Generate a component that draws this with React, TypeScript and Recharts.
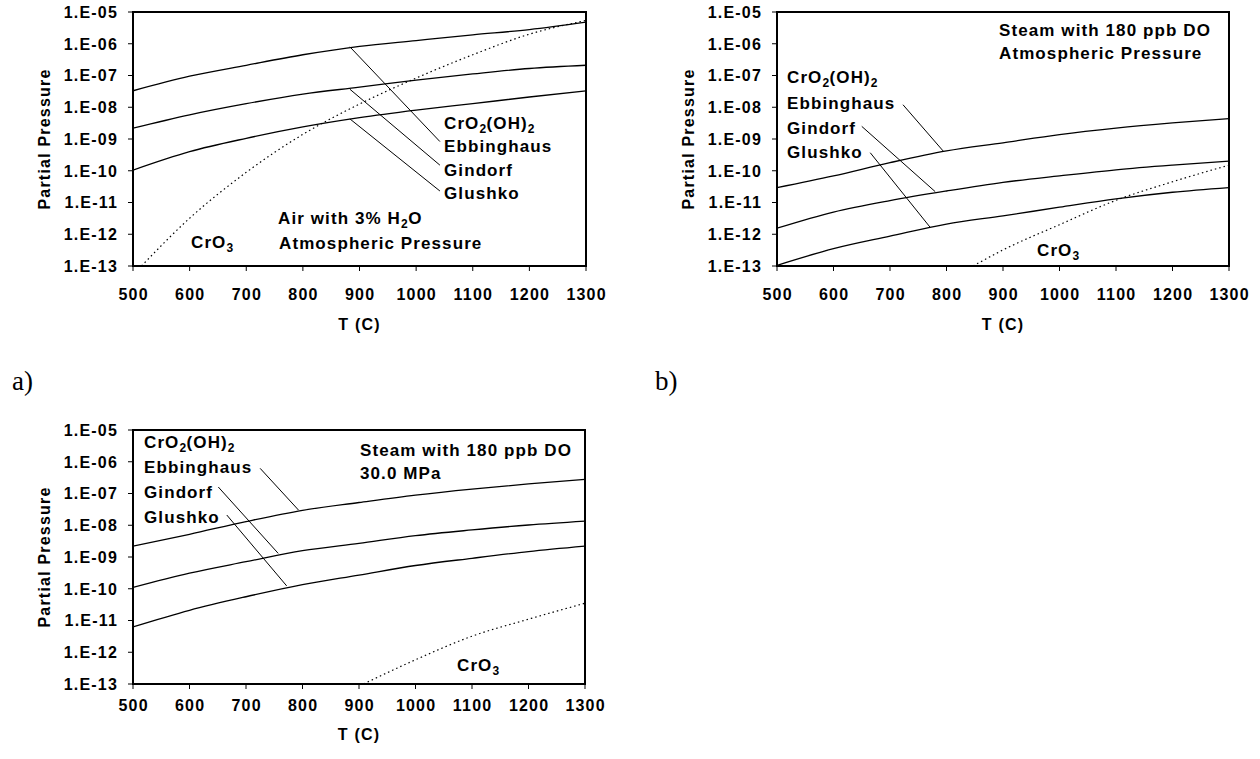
import React from 'react';
import { LineChart, Line, XAxis, YAxis, ReferenceLine, ReferenceArea } from 'recharts';

// ---------- shared axes ----------
const temps = [500, 600, 700, 800, 900, 1000, 1100, 1200, 1300];
const xTicks = [500, 600, 700, 800, 900, 1000, 1100, 1200, 1300];
const yTicks = [1e-13, 1e-12, 1e-11, 1e-10, 1e-9, 1e-8, 1e-7, 1e-6, 1e-5];

// ---------- panel a: Air with 3% H2O, atmospheric pressure ----------
const aEbbinghaus = [3.3e-8, 9.5e-8, 2.1e-7, 4.5e-7, 8.3e-7, 1.26e-6, 1.9e-6, 2.8e-6, 4.8e-6];
const aGindorf = [2.2e-9, 5.8e-9, 1.3e-8, 2.6e-8, 4.3e-8, 7.2e-8, 1.12e-7, 1.66e-7, 2.1e-7];
const aGlushko = [1.05e-10, 4.0e-10, 1.05e-9, 2.4e-9, 4.7e-9, 8.1e-9, 1.3e-8, 2.1e-8, 3.3e-8];
const aCrO3Temps = [515, 600, 700, 800, 900, 1000, 1100, 1200, 1300];
const aCrO3 = [1e-13, 3.2e-12, 8.9e-11, 1.4e-9, 1.26e-8, 8.3e-8, 4.5e-7, 2.0e-6, 5.4e-6];
const aLeaders = [
  [[883, 8.0e-7], [1042, 8.3e-10]],
  [[883, 3.7e-8], [1042, 1.5e-10]],
  [[883, 4.3e-9], [1042, 2.3e-11]],
];

// ---------- panel b: Steam with 180 ppb DO, atmospheric pressure ----------
const bEbbinghaus = [2.95e-11, 6.9e-11, 1.8e-10, 4.2e-10, 7.6e-10, 1.38e-9, 2.2e-9, 3.2e-9, 4.4e-9];
const bGindorf = [1.55e-12, 5.0e-12, 1.15e-11, 2.3e-11, 4.3e-11, 6.9e-11, 1.07e-10, 1.5e-10, 2.0e-10];
const bGlushko = [1.05e-13, 3.5e-13, 8.7e-13, 2.1e-12, 3.8e-12, 7.1e-12, 1.3e-11, 2.1e-11, 2.95e-11];
const bCrO3Temps = [847, 900, 1000, 1100, 1200, 1300];
const bCrO3 = [1e-13, 3.2e-13, 2.0e-12, 1.17e-11, 4.5e-11, 1.5e-10];
const bLeaders = [
  [[723, 1.2e-8], [794, 4.2e-10]],
  [[650, 2.5e-9], [780, 2.2e-11]],
  [[665, 3.7e-10], [771, 1.66e-12]],
];

// ---------- panel c: Steam with 180 ppb DO, 30.0 MPa ----------
const cEbbinghaus = [2.2e-9, 5.2e-9, 1.3e-8, 2.95e-8, 5.2e-8, 8.9e-8, 1.38e-7, 2.0e-7, 2.8e-7];
const cGindorf = [1.1e-10, 3.1e-10, 7.1e-10, 1.58e-9, 2.7e-9, 4.7e-9, 7.1e-9, 1.02e-8, 1.35e-8];
const cGlushko = [6.3e-12, 2.1e-11, 5.6e-11, 1.35e-10, 2.7e-10, 5.4e-10, 9.1e-10, 1.48e-9, 2.2e-9];
const cCrO3Temps = [908, 1000, 1100, 1200, 1300];
const cCrO3 = [1e-13, 5.8e-13, 3.2e-12, 1.1e-11, 3.5e-11];
const cLeaders = [
  [[725, 6.2e-7], [793, 3.0e-8]],
  [[651, 1.6e-7], [757, 1.3e-9]],
  [[666, 2.1e-8], [772, 1.23e-10]],
];

// ---------- helpers ----------
const rows = (ts: number[], vs: number[]) => ts.map((t, i) => ({ t, p: vs[i] }));
const fmt = (v: number) => '1.E-' + String(Math.round(-Math.log10(v))).padStart(2, '0');

const SANS = "'Liberation Sans', Arial, Helvetica, sans-serif";
const tickFont: React.CSSProperties = {
  fontFamily: SANS,
  fontWeight: 700,
  fontSize: 16,
  letterSpacing: 1.2,
};

const YTick = (props: any) => {
  const { x, y, payload } = props;
  return (
    <text x={x} y={y} dy="0.36em" textAnchor="end" fill="#000" style={tickFont}>
      {fmt(payload.value)}
    </text>
  );
};

const makeXTick = (dy: number) => (props: any) => {
  const { x, y, payload } = props;
  return (
    <text x={x + 0.6} y={y} dy={dy} textAnchor="middle" fill="#000" style={tickFont}>
      {payload.value}
    </text>
  );
};

const makeXLabel = (dy: number) => (props: any) => {
  const vb = props.viewBox;
  return (
    <text x={vb.x + vb.width / 2} y={vb.y + dy} textAnchor="middle" fill="#000" style={tickFont}>
      T (C)
    </text>
  );
};

const YLabel = (props: any) => {
  const vb = props.viewBox;
  const cx = vb.x + 44;
  const cy = vb.y + vb.height / 2;
  return (
    <text
      transform={`translate(${cx},${cy}) rotate(-90)`}
      dy="0.36em"
      textAnchor="middle"
      fill="#000"
      style={tickFont}
    >
      Partial Pressure
    </text>
  );
};

type PanelProps = {
  left: number;
  top: number;
  plotWidth: number;
  ebb: number[];
  gin: number[];
  glu: number[];
  cro3T: number[];
  cro3: number[];
  leaders: number[][][];
  tickDy: number;
  labelDy: number;
};

const CHART_W = 640;

const Panel = (p: PanelProps) => {
  const XTick = makeXTick(p.tickDy);
  const XLabel = makeXLabel(p.labelDy);
  const rightMargin = CHART_W - 133 - p.plotWidth;
  return (
    <div style={{ position: 'absolute', left: p.left, top: p.top }}>
      <LineChart width={CHART_W} height={340} margin={{ top: 12, right: rightMargin, left: 0, bottom: 0 }}>
        <XAxis
          dataKey="t"
          type="number"
          domain={[500, 1300]}
          ticks={xTicks}
          interval={0}
          height={74}
          tickSize={5}
          tickMargin={0}
          axisLine={{ stroke: '#000', strokeWidth: 2 }}
          tickLine={{ stroke: '#000', strokeWidth: 1 }}
          tick={<XTick />}
          label={<XLabel />}
          allowDataOverflow
        />
        <YAxis
          type="number"
          scale="log"
          domain={[1e-13, 1e-5]}
          ticks={yTicks}
          interval={0}
          width={133}
          tickSize={5}
          tickMargin={10}
          axisLine={{ stroke: '#000', strokeWidth: 2 }}
          tickLine={{ stroke: '#000', strokeWidth: 1 }}
          tick={<YTick />}
          label={<YLabel />}
          allowDataOverflow
        />
        <ReferenceArea
          x1={500}
          x2={1300}
          y1={1e-13}
          y2={1e-5}
          fill="none"
          fillOpacity={0}
          stroke="#000"
          strokeWidth={2}
          ifOverflow="visible"
        />
        {p.leaders.map((seg, i) => (
          <ReferenceLine
            key={'l' + i}
            segment={[{ x: seg[0][0], y: seg[0][1] }, { x: seg[1][0], y: seg[1][1] }]}
            stroke="#000"
            strokeWidth={1}
            ifOverflow="visible"
          />
        ))}
        <Line data={rows(temps, p.ebb)} dataKey="p" type="monotone" stroke="#000" strokeWidth={1.3} dot={false} isAnimationActive={false} />
        <Line data={rows(temps, p.gin)} dataKey="p" type="monotone" stroke="#000" strokeWidth={1.3} dot={false} isAnimationActive={false} />
        <Line data={rows(temps, p.glu)} dataKey="p" type="monotone" stroke="#000" strokeWidth={1.3} dot={false} isAnimationActive={false} />
        <Line
          data={rows(p.cro3T, p.cro3)}
          dataKey="p"
          type="monotone"
          stroke="#000"
          strokeWidth={1.2}
          strokeDasharray="1.5 3"
          dot={false}
          isAnimationActive={false}
        />
      </LineChart>
    </div>
  );
};

const noteFont: React.CSSProperties = {
  position: 'absolute',
  fontFamily: SANS,
  fontWeight: 700,
  fontSize: 17,
  letterSpacing: 1.1,
  lineHeight: '20px',
  whiteSpace: 'nowrap',
  color: '#000',
};

const Sub = ({ children }: { children: React.ReactNode }) => (
  <span style={{ fontSize: 12, position: 'relative', top: 4, letterSpacing: 0.5 }}>{children}</span>
);

const Note = ({ x, cy, children }: { x: number; cy: number; children: React.ReactNode }) => (
  <div style={{ ...noteFont, left: x, top: cy - 10 }}>{children}</div>
);

const serifLabel: React.CSSProperties = {
  position: 'absolute',
  fontFamily: "'Liberation Serif', 'Times New Roman', serif",
  fontSize: 27,
  lineHeight: '30px',
  color: '#000',
};

export default function App() {
  return (
    <div style={{ position: 'absolute', left: 0, top: 0, width: 1260, height: 759, background: '#fff', overflow: 'hidden' }}>
      <Panel left={0} top={0} plotWidth={453} ebb={aEbbinghaus} gin={aGindorf} glu={aGlushko} cro3T={aCrO3Temps} cro3={aCrO3} leaders={aLeaders} tickDy={28.7} labelDy={64} />
      <Panel left={644} top={0} plotWidth={452} ebb={bEbbinghaus} gin={bGindorf} glu={bGlushko} cro3T={bCrO3Temps} cro3={bCrO3} leaders={bLeaders} tickDy={28.7} labelDy={64} />
      <Panel left={0} top={418} plotWidth={452} ebb={cEbbinghaus} gin={cGindorf} glu={cGlushko} cro3T={cCrO3Temps} cro3={cCrO3} leaders={cLeaders} tickDy={21.7} labelDy={56} />

      {/* panel a notes */}
      <Note x={444} cy={124}>CrO<Sub>2</Sub>(OH)<Sub>2</Sub></Note>
      <Note x={444} cy={147}>Ebbinghaus</Note>
      <Note x={444} cy={171}>Gindorf</Note>
      <Note x={444} cy={194}>Glushko</Note>
      <Note x={278} cy={219}>Air with 3% H<Sub>2</Sub>O</Note>
      <Note x={279} cy={244}>Atmospheric Pressure</Note>
      <Note x={191} cy={243}>CrO<Sub>3</Sub></Note>

      {/* panel b notes */}
      <Note x={999} cy={31}>Steam with 180 ppb DO</Note>
      <Note x={999} cy={54}>Atmospheric Pressure</Note>
      <Note x={787} cy={78}>CrO<Sub>2</Sub>(OH)<Sub>2</Sub></Note>
      <Note x={787} cy={104}>Ebbinghaus</Note>
      <Note x={787} cy={129}>Gindorf</Note>
      <Note x={787} cy={153}>Glushko</Note>
      <Note x={1037} cy={251}>CrO<Sub>3</Sub></Note>

      {/* panel c notes */}
      <Note x={144} cy={443}>CrO<Sub>2</Sub>(OH)<Sub>2</Sub></Note>
      <Note x={144} cy={468}>Ebbinghaus</Note>
      <Note x={144} cy={493}>Gindorf</Note>
      <Note x={144} cy={518}>Glushko</Note>
      <Note x={360} cy={451}>Steam with 180 ppb DO</Note>
      <Note x={360} cy={474}>30.0 MPa</Note>
      <Note x={457} cy={666}>CrO<Sub>3</Sub></Note>

      <div style={{ ...serifLabel, left: 12, top: 366 }}>a)</div>
      <div style={{ ...serifLabel, left: 655, top: 366 }}>b)</div>
    </div>
  );
}
